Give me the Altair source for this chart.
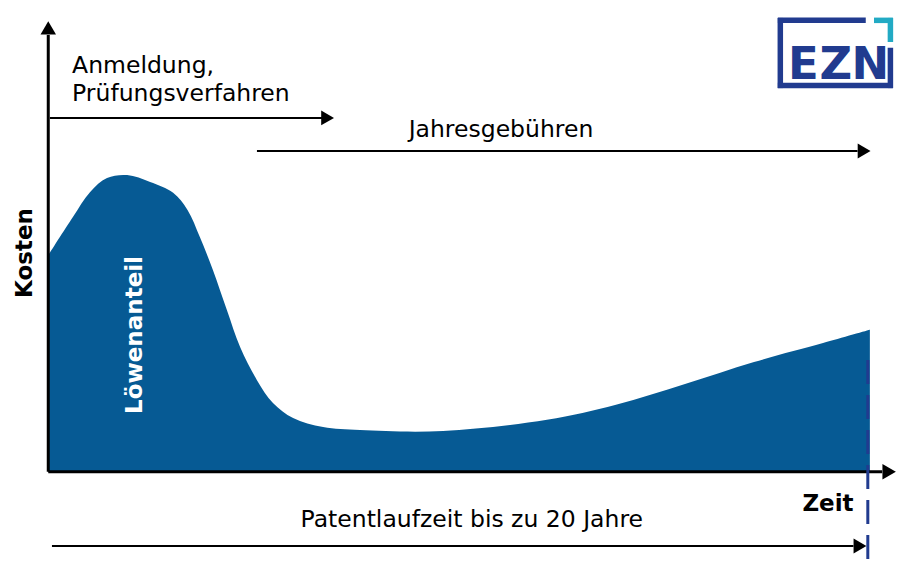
import altair as alt
import pandas as pd

# ---------------- data (time in years, cost in arbitrary units) ----------------
years = [0, 0.60, 1.02, 1.43, 1.92, 2.48, 3.04, 3.39, 3.69, 4.01, 4.35, 4.67, 5.08,
         5.47, 5.96, 6.69, 7.59, 9.61, 12.14, 13.82, 15.5, 17.18, 18.86, 20.0]
costs = [71.9, 84.6, 92.9, 97.5, 98.5, 96.2, 92.6, 86.9, 77.9, 66.9, 53.6, 41.4, 30.4,
         22.8, 17.8, 14.8, 13.8, 13.5, 17.2, 22.2, 29.1, 36.4, 42.7, 47.1]

labels_left = ["Anmeldung,", "Prüfungsverfahren"]
label_center = ["Jahresgebühren", "Patentlaufzeit bis zu 20 Jahre"]
axis_labels = ["Zeit", "Kosten"]
inner_label = "Löwenanteil"
logo_letters = ["E", "Z", "N"]

AREA = "#065A94"
NAVY = "#213B8F"
CYAN = "#22AAC4"
FONT = "DejaVu Sans"

xs = alt.Scale(domain=[-0.98, 21.05], nice=False, zero=False)
ys = alt.Scale(domain=[-32, 154], nice=False, zero=False)

X = lambda f="x": alt.X(f"{f}:Q", scale=xs, axis=None)
Y = lambda f="y": alt.Y(f"{f}:Q", scale=ys, axis=None)

# ---------------- curve ----------------
curve = pd.DataFrame({"x": years, "y": costs})
area = alt.Chart(curve).mark_area(color=AREA, interpolate="catmull-rom").encode(
    x=X(), y=Y(), y2=alt.datum(0)
)

# ---------------- axes & arrows ----------------
axes_df = pd.DataFrame({
    "x": [0, 0], "x2": [0, 20.30], "y": [0, 0], "y2": [145.0, 0]})
axes = alt.Chart(axes_df).mark_rule(color="black", strokeWidth=3).encode(
    x=X(), x2="x2:Q", y=Y(), y2="y2:Q")

arrows_df = pd.DataFrame({
    "x": [0.04, 5.08, 0.09], "x2": [6.70, 19.70, 19.60],
    "y": [117.5, 106.5, -24.7], "y2": [117.5, 106.5, -24.7]})
arrows = alt.Chart(arrows_df).mark_rule(color="black", strokeWidth=2).encode(
    x=X(), x2="x2:Q", y=Y(), y2="y2:Q")

heads_df = pd.DataFrame({
    "x": [0, 20.47, 6.80, 19.86, 19.76],
    "y": [147.4, 0, 117.5, 106.5, -24.7],
    "shape": ["triangle-up", "triangle-right", "triangle-right", "triangle-right", "triangle-right"],
    "size": [240, 240, 220, 220, 220]})
heads = alt.Chart(heads_df).mark_point(filled=True, color="black", opacity=1).encode(
    x=X(), y=Y(), shape=alt.Shape("shape:N", scale=None),
    size=alt.Size("size:Q", scale=None))

dash_df = pd.DataFrame({"x": [19.95], "y": [37.1], "y2": [-29.3]})
dash = alt.Chart(dash_df).mark_rule(color=NAVY, strokeWidth=3, strokeDash=[24, 11]).encode(
    x=X(), y=Y(), y2="y2:Q")

# ---------------- texts ----------------
t_left = alt.Chart(pd.DataFrame({"t": labels_left, "x": [0.58, 0.58], "y": [132.4, 123.1]})).mark_text(
    align="left", baseline="alphabetic", font=FONT, fontSize=23.5, color="black").encode(
    x=X(), y=Y(), text="t:N")

t_center = alt.Chart(pd.DataFrame({"t": label_center, "x": [11.02, 10.31], "y": [111.2, -18.4]})).mark_text(
    align="center", baseline="alphabetic", font=FONT, fontSize=23.5, color="black").encode(
    x=X(), y=Y(), text="t:N")

t_zeit = alt.Chart(pd.DataFrame({"t": [axis_labels[0]], "x": [18.98], "y": [-13.2]})).mark_text(
    align="center", baseline="alphabetic", font=FONT, fontSize=23, fontWeight="bold", color="black").encode(
    x=X(), y=Y(), text="t:N")

t_kosten = alt.Chart(pd.DataFrame({"t": [axis_labels[1]], "x": [-0.397], "y": [72.6]})).mark_text(
    align="center", baseline="alphabetic", angle=270, font=FONT, fontSize=23, fontWeight="bold",
    color="black").encode(x=X(), y=Y(), text="t:N")

t_loewe = alt.Chart(pd.DataFrame({"t": [inner_label], "x": [2.28], "y": [45.4]})).mark_text(
    align="center", baseline="alphabetic", angle=270, font=FONT, fontSize=23, fontWeight="bold",
    color="white").encode(x=X(), y=Y(), text="t:N")

# ---------------- logo ----------------
frame_df = pd.DataFrame({
    "x": [17.76, 17.82, 17.76, 20.50], "x2": [19.90, 17.82, 20.56, 20.50],
    "y": [149.9, 150.7, 128.3, 140.8], "y2": [149.9, 127.4, 128.3, 127.4]})
frame = alt.Chart(frame_df).mark_rule(color=NAVY, strokeWidth=5.5).encode(
    x=X(), x2="x2:Q", y=Y(), y2="y2:Q")

corner_df = pd.DataFrame({
    "x": [20.10, 20.50], "x2": [20.56, 20.50],
    "y": [149.9, 150.7], "y2": [149.9, 142.7]})
corner = alt.Chart(corner_df).mark_rule(color=CYAN, strokeWidth=5.5).encode(
    x=X(), x2="x2:Q", y=Y(), y2="y2:Q")

letters = alt.Chart(pd.DataFrame({"t": logo_letters, "x": [18.38, 19.17, 20.01],
                                  "y": [130.3, 130.3, 130.3]})).mark_text(
    align="center", baseline="alphabetic", font="DejaVu Sans",
    fontSize=45, fontWeight="bold", color=NAVY).encode(x=X(), y=Y(), text="t:N")

chart = alt.layer(
    area, axes, arrows, heads, dash, t_left, t_center, t_zeit, t_kosten, t_loewe,
    frame, corner, letters
).properties(
    width=905, height=560, padding=0, autosize=alt.AutoSizeParams(type="none"),
    background="white"
).configure_view(stroke=None)

chart.save("out.html", embed_options={"renderer": "svg", "actions": False})
